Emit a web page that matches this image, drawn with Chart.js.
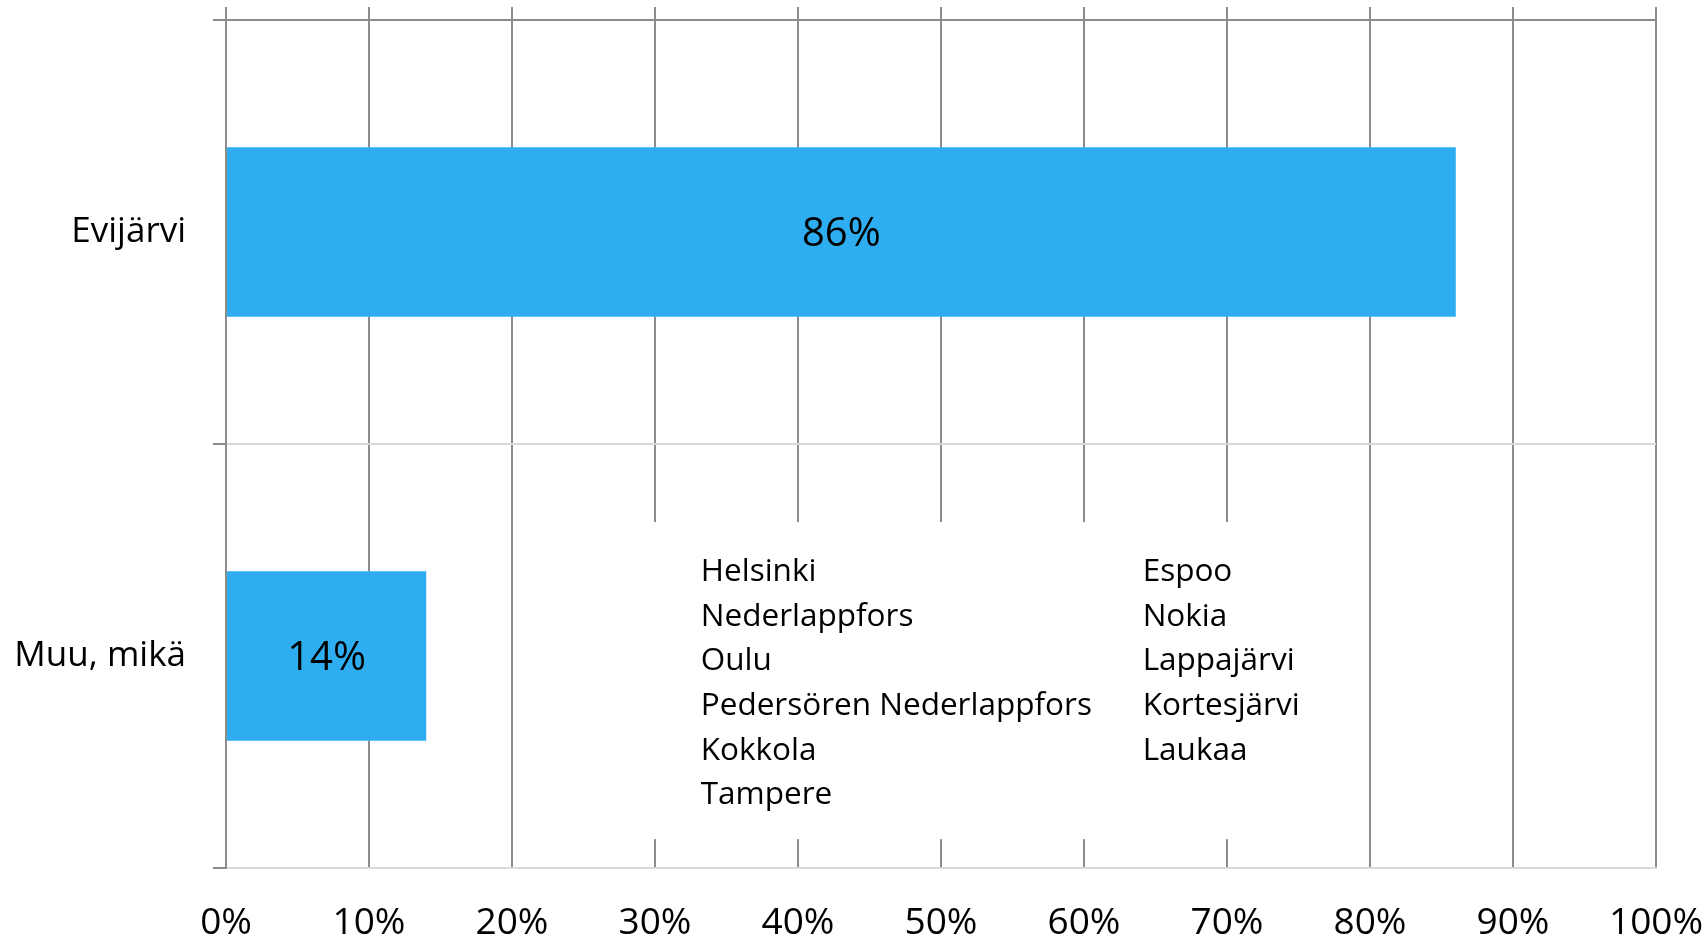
<!DOCTYPE html>
<html>
<head>
<meta charset="utf-8">
<script src="https://cdn.jsdelivr.net/npm/chart.js@4/dist/chart.umd.min.js"></script>
<style>
  body { margin: 0; background: #fff; }
</style>
</head>
<body>
<canvas id="myChart" width="1706" height="942"></canvas>
<script>
const categories = ['Evijärvi', 'Muu, mikä'];
const shares = [86, 14];
const xTicks = [0, 10, 20, 30, 40, 50, 60, 70, 80, 90, 100];
const otherPlacesLeft = ['Helsinki', 'Nederlappfors', 'Oulu', 'Pedersören Nederlappfors', 'Kokkola', 'Tampere'];
const otherPlacesRight = ['Espoo', 'Nokia', 'Lappajärvi', 'Kortesjärvi', 'Laukaa'];

const FONT = "'Open Sans', 'Noto Sans', sans-serif";
const DARK = '#8c8c8c';
const LIGHT = '#d9d9d9';

// value labels in the middle of each bar
const barLabels = {
  id: 'barLabels',
  afterDatasetsDraw(chart) {
    const ctx = chart.ctx;
    const meta = chart.getDatasetMeta(0);
    ctx.save();
    ctx.font = '40px ' + FONT;
    ctx.fillStyle = '#000';
    ctx.textAlign = 'center';
    ctx.textBaseline = 'middle';
    meta.data.forEach((bar, i) => {
      const cx = (bar.x + bar.base) / 2;
      ctx.fillText(shares[i] + '%', cx, bar.y + 3);
    });
    ctx.restore();
  }
};

// white text box listing the "Muu, mikä" answers
const answerBox = {
  id: 'answerBox',
  beforeDatasetsDraw(chart) {
    const ctx = chart.ctx;
    const x = chart.scales.x;
    const area = chart.chartArea;
    const h = area.bottom - area.top;
    ctx.save();
    ctx.fillStyle = '#fff';
    const left = x.getPixelForValue(27);
    const right = x.getPixelForValue(76);
    const top = area.top + h * 0.592;
    const bottom = area.top + h * 0.966;
    ctx.fillRect(left, top, right - left, bottom - top);
    ctx.font = '31.5px ' + FONT;
    ctx.fillStyle = '#000';
    ctx.textAlign = 'left';
    ctx.textBaseline = 'alphabetic';
    const lineH = 44.7;
    const base = area.top + h * 0.6615;
    otherPlacesLeft.forEach((t, i) => ctx.fillText(t, x.getPixelForValue(33.2), base + i * lineH));
    otherPlacesRight.forEach((t, i) => ctx.fillText(t, x.getPixelForValue(64.1), base + i * lineH));
    ctx.restore();
  }
};

function noPad(scale) {
  scale.paddingLeft = 0;
  scale.paddingRight = 0;
  scale.paddingTop = 0;
  scale.paddingBottom = 0;
}

new Chart(document.getElementById('myChart'), {
  type: 'bar',
  data: {
    labels: categories,
    datasets: [{
      data: shares,
      backgroundColor: '#2eaef0',
      borderWidth: 0,
      barPercentage: 0.4,
      categoryPercentage: 1.0,
      xAxisID: 'x'
    }]
  },
  options: {
    indexAxis: 'y',
    responsive: false,
    animation: false,
    devicePixelRatio: 1,
    layout: { padding: { top: 7, right: 50, bottom: 0, left: 0 } },
    plugins: {
      legend: { display: false },
      tooltip: { enabled: false }
    },
    scales: {
      x: {
        position: 'bottom',
        min: 0,
        max: 100,
        afterBuildTicks: scale => { scale.ticks = xTicks.map(v => ({ value: v })); },
        afterFit: scale => { scale.height = 74; noPad(scale); },
        grid: { color: DARK, lineWidth: 2, drawTicks: false },
        border: { display: true, color: LIGHT, width: 2 },
        ticks: {
          padding: 33,
          color: '#000',
          maxRotation: 0,
          autoSkip: false,
          font: { family: FONT, size: 37 },
          callback: v => v + '%'
        }
      },
      x2: {
        position: 'top',
        min: 0,
        max: 100,
        afterBuildTicks: scale => { scale.ticks = xTicks.map(v => ({ value: v })); },
        afterFit: scale => { scale.height = 13; noPad(scale); },
        grid: { drawOnChartArea: false, tickLength: 13, tickColor: DARK, lineWidth: 2 },
        border: { display: true, color: DARK, width: 2 },
        ticks: { display: false }
      },
      y: {
        afterFit: scale => { scale.width = 226; noPad(scale); },
        grid: {
          offset: true,
          lineWidth: 2,
          tickLength: 13,
          tickColor: DARK,
          color: ctx => ctx.index === 0 ? DARK : LIGHT
        },
        border: { display: true, color: DARK, width: 2 },
        ticks: {
          padding: 27,
          color: '#000',
          font: { family: FONT, size: 35 }
        }
      }
    }
  },
  plugins: [answerBox, barLabels]
});
</script>
</body>
</html>
